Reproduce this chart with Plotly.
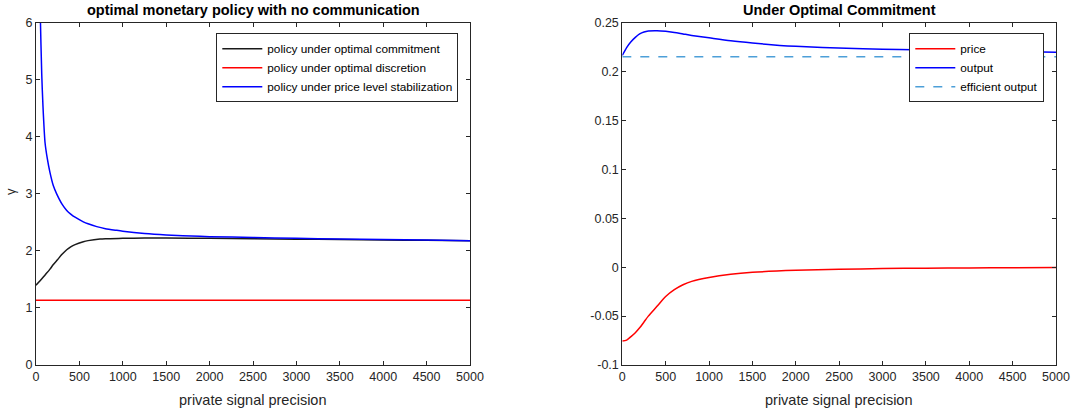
import plotly.graph_objects as go

# ---------------- data ----------------
# left panel
blue_x = [25, 40, 50, 66, 80, 104, 130, 160, 200, 238, 300, 354, 400, 450, 545, 600, 700, 800, 930, 1000, 1250, 1500, 1889, 2000, 2500, 3000, 3500, 4000, 4500, 5000]
blue_y = [10.2, 7.1, 6.1, 5.1, 4.55, 3.9, 3.62, 3.38, 3.14, 3.0, 2.82, 2.71, 2.645, 2.59, 2.51, 2.475, 2.425, 2.39, 2.36, 2.345, 2.305, 2.28, 2.255, 2.25, 2.235, 2.22, 2.21, 2.2, 2.19, 2.18]

black_x = [0, 50, 100, 161, 200, 250, 300, 354, 400, 450, 545, 600, 737, 800, 1000, 1250, 1500, 2000, 2500, 3000, 3500, 4000, 4500, 5000]
black_y = [1.40, 1.48, 1.57, 1.68, 1.76, 1.85, 1.94, 2.02, 2.07, 2.11, 2.16, 2.18, 2.21, 2.215, 2.22, 2.225, 2.225, 2.22, 2.215, 2.205, 2.20, 2.19, 2.185, 2.18]

red_x = [0, 5000]
red_y = [1.135, 1.135]

# right panel
out_x = [0, 50, 100, 150, 200, 250, 300, 400, 500, 600, 700, 800, 1000, 1250, 1500, 1815, 2000, 2583, 3000, 3350, 4000, 4500, 5000]
out_y = [0.2165, 0.2245, 0.2305, 0.2350, 0.2385, 0.2405, 0.2415, 0.2418, 0.2412, 0.2400, 0.2385, 0.2370, 0.2345, 0.2315, 0.2292, 0.2268, 0.2258, 0.2238, 0.2229, 0.2223, 0.2213, 0.2205, 0.2198]

price_x = [0, 50, 100, 150, 200, 250, 300, 400, 500, 600, 700, 800, 1000, 1250, 1500, 2000, 2500, 3000, 3500, 4000, 4500, 5000]
price_y = [-0.0755, -0.0745, -0.0710, -0.0670, -0.0620, -0.0560, -0.0500, -0.0400, -0.0300, -0.0230, -0.0180, -0.0145, -0.0105, -0.0072, -0.0052, -0.0032, -0.0021, -0.0014, -0.0010, -0.0007, -0.0005, -0.0004]

eff_x = [0, 5000]
eff_y = [0.2151, 0.2151]

x_ticks = [0, 500, 1000, 1500, 2000, 2500, 3000, 3500, 4000, 4500, 5000]
left_y_ticks = [0, 1, 2, 3, 4, 5, 6]
right_y_ticks = [-0.1, -0.05, 0, 0.05, 0.1, 0.15, 0.2, 0.25]
right_y_labels = ["-0.1", "-0.05", "0", "0.05", "0.1", "0.15", "0.2", "0.25"]

# ---------------- figure ----------------
W, H = 1073, 413
FONT = "Liberation Sans, Arial, Helvetica, sans-serif"
AX = "#262626"

fig = go.Figure()
fig.add_trace(go.Scatter(x=black_x, y=black_y, mode="lines", name="policy under optimal commitment",
                         line=dict(color="#1a1a1a", width=1.5, shape="spline", smoothing=0.8),
                         xaxis="x", yaxis="y", legend="legend"))
fig.add_trace(go.Scatter(x=red_x, y=red_y, mode="lines", name="policy under optimal discretion",
                         line=dict(color="#ff0000", width=1.5), xaxis="x", yaxis="y", legend="legend"))
fig.add_trace(go.Scatter(x=blue_x, y=blue_y, mode="lines", name="policy under price level stabilization",
                         line=dict(color="#0000ff", width=1.5, shape="spline", smoothing=0.6),
                         xaxis="x", yaxis="y", legend="legend"))

fig.add_trace(go.Scatter(x=price_x, y=price_y, mode="lines", name="price",
                         line=dict(color="#ff0000", width=1.5, shape="spline", smoothing=0.8),
                         xaxis="x2", yaxis="y2", legend="legend2"))
fig.add_trace(go.Scatter(x=out_x, y=out_y, mode="lines", name="output",
                         line=dict(color="#0000ff", width=1.5, shape="spline", smoothing=0.8),
                         xaxis="x2", yaxis="y2", legend="legend2"))
fig.add_trace(go.Scatter(x=eff_x, y=eff_y, mode="lines", name="efficient output",
                         line=dict(color="#4d9fd8", width=1.5, dash="dash"),
                         xaxis="x2", yaxis="y2", legend="legend2"))

def px_x(p):
    return p / W

def px_y(p):
    return 1 - p / H

common = dict(showline=True, linecolor=AX, linewidth=1, mirror="ticks", ticks="inside",
              ticklen=4, tickcolor=AX, tickwidth=1, showgrid=False, zeroline=False,
              automargin=False,
              tickfont=dict(family=FONT, size=12.5, color=AX))

ydom = [px_y(365), px_y(22.7)]
fig.update_layout(
    template="none",
    width=W, height=H, margin=dict(l=0, r=0, t=0, b=0, pad=0),
    paper_bgcolor="white", plot_bgcolor="white",
    font=dict(family=FONT, color=AX),
    xaxis=dict(domain=[px_x(36), px_x(470)], range=[0, 5000], tickvals=x_ticks, anchor="y", **common),
    yaxis=dict(domain=ydom, range=[0, 6], tickvals=left_y_ticks, anchor="x", **common),
    xaxis2=dict(domain=[px_x(622.3), px_x(1056)], range=[0, 5000], tickvals=x_ticks, anchor="y2", **common),
    yaxis2=dict(domain=ydom, range=[-0.1, 0.25], tickvals=right_y_ticks, ticktext=right_y_labels, anchor="x2", **common),
    legend=dict(x=px_x(458.3), y=px_y(33.3), xanchor="right", yanchor="top",
                bgcolor="white", bordercolor="#262626", borderwidth=1,
                font=dict(family=FONT, size=11.8, color="#000"), itemwidth=40,
                tracegroupgap=0),
    legend2=dict(x=px_x(1044.3), y=px_y(33.3), xanchor="right", yanchor="top",
                 bgcolor="white", bordercolor="#262626", borderwidth=1,
                 font=dict(family=FONT, size=11.8, color="#000"), itemwidth=40,
                 tracegroupgap=0),
    showlegend=True,
)

ann = [
    dict(text="<b>optimal monetary policy with no communication</b>", x=px_x(253), y=px_y(10),
         font=dict(size=14.5, color="#000")),
    dict(text="<b>Under Optimal Commitment</b>", x=px_x(839), y=px_y(10),
         font=dict(size=14.5, color="#000")),
    dict(text="private signal precision", x=px_x(253), y=px_y(400), font=dict(size=14.5, color=AX)),
    dict(text="private signal precision", x=px_x(839), y=px_y(400), font=dict(size=14.5, color=AX)),
    dict(text="γ", x=px_x(10), y=px_y(192), textangle=-90, font=dict(size=13, color=AX)),
]
for a in ann:
    a.update(xref="paper", yref="paper", showarrow=False, xanchor="center", yanchor="middle")
    a["font"]["family"] = FONT
fig.update_layout(annotations=ann)

fig.write_html("out.html", config={"displayModeBar": False},
               post_script="document.body.style.margin='0';document.body.style.overflow='hidden';")
